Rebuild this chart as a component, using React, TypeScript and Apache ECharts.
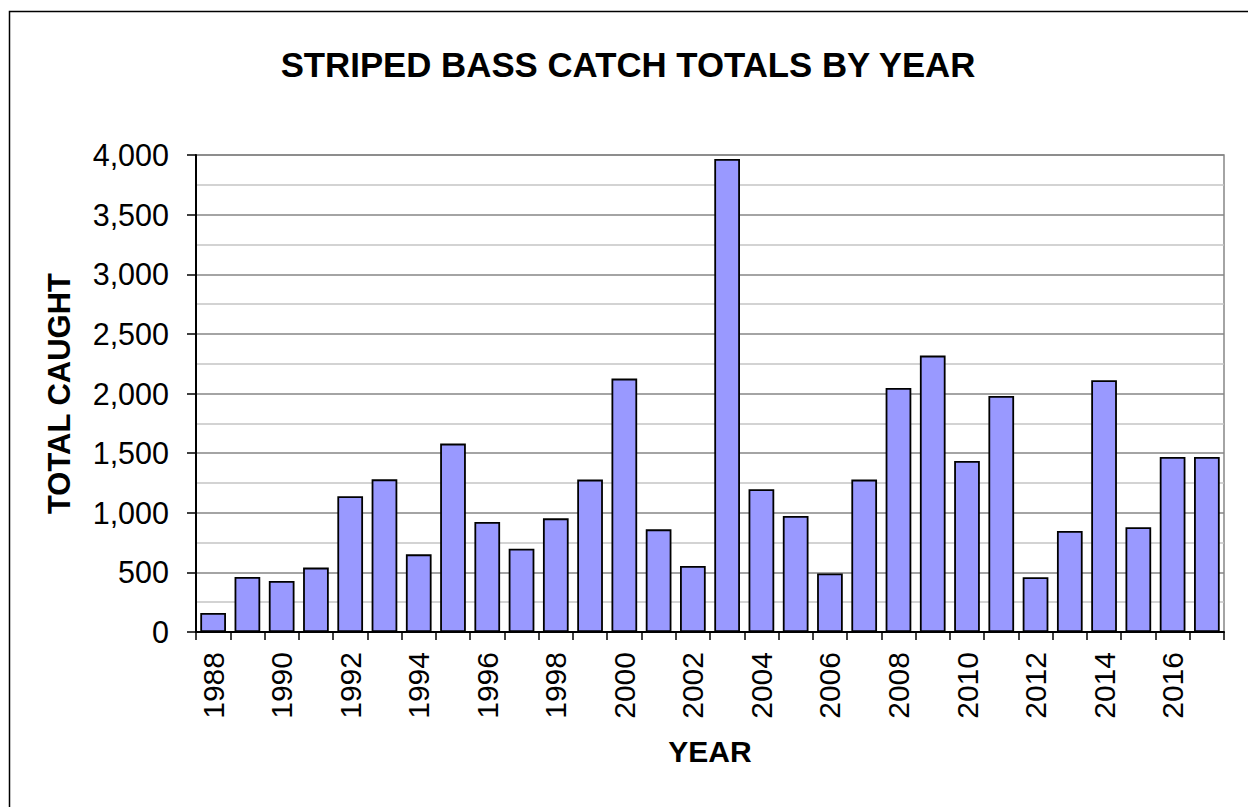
import React, { useEffect, useRef } from "react";
import * as echarts from "echarts";

const years = [
  "1988","1989","1990","1991","1992","1993","1994","1995","1996","1997",
  "1998","1999","2000","2001","2002","2003","2004","2005","2006","2007",
  "2008","2009","2010","2011","2012","2013","2014","2015","2016","2017",
];
const totals = [
  159, 461, 428, 540, 1138, 1280, 651, 1580, 923, 699,
  953, 1278, 2125, 861, 554, 3967, 1197, 973, 490, 1278,
  2046, 2318, 1434, 1979, 459, 847, 2111, 878, 1468, 1468,
];
const titleText = "STRIPED BASS CATCH TOTALS BY YEAR";
const yTitle = "TOTAL CAUGHT";
const xTitle = "YEAR";

const FONT = "'Liberation Sans', Arial, sans-serif";

export default function App() {
  const ref = useRef<HTMLDivElement>(null);
  useEffect(() => {
    document.body.style.margin = "0";
    if (!ref.current) return;
    const chart = echarts.init(ref.current, null, { renderer: "svg" });
    chart.setOption({
      animation: false,
      backgroundColor: "#ffffff",
      textStyle: { fontFamily: FONT },
      title: {
        text: titleText,
        left: 623,
        textAlign: "center",
        top: 42,
        textStyle: { fontFamily: FONT, fontSize: 34.8, fontWeight: "bold", color: "#000" },
      },
      graphic: [
        {
          type: "rect",
          shape: { x: 9.5, y: 11.5, width: 1400, height: 1000 },
          style: { fill: "none", stroke: "#000", lineWidth: 1.5 },
          silent: true,
        },
      ],
      grid: {
        left: 196,
        right: 24,
        top: 155,
        bottom: 175,
        show: true,
        borderColor: "#868686",
        borderWidth: 1.5,
        backgroundColor: "transparent",
      },
      xAxis: {
        type: "category",
        data: years,
        name: xTitle,
        nameLocation: "middle",
        nameGap: 104,
        nameTextStyle: { fontFamily: FONT, fontSize: 30, fontWeight: "bold", color: "#000" },
        axisLine: { lineStyle: { color: "#000", width: 2 } },
        axisTick: { show: true, interval: 0, length: 8, lineStyle: { color: "#000", width: 1.5 } },
        axisLabel: {
          interval: 1,
          rotate: 90,
          margin: 20,
          fontFamily: FONT,
          fontSize: 30,
          color: "#000",
        },
        splitLine: { show: false },
      },
      yAxis: {
        type: "value",
        min: 0,
        max: 4000,
        interval: 500,
        name: yTitle,
        nameLocation: "middle",
        nameRotate: 90,
        nameGap: 121,
        nameTextStyle: { fontFamily: FONT, fontSize: 31, fontWeight: "bold", color: "#000" },
        axisLine: { show: true, lineStyle: { color: "#000", width: 2 } },
        axisTick: { show: true, length: 9, lineStyle: { color: "#000", width: 1.5 } },
        axisLabel: {
          margin: 27,
          fontFamily: FONT,
          fontSize: 30.5,
          color: "#000",
          formatter: (v: number) => v.toLocaleString("en-US"),
        },
        splitLine: { show: true, lineStyle: { color: "#868686", width: 1.5 } },
        minorTick: { show: false, splitNumber: 2 },
        minorSplitLine: { show: true, lineStyle: { color: "#c4c4c4", width: 1.5 } },
      },
      series: [
        {
          type: "bar",
          data: totals,
          barCategoryGap: "25%",
          itemStyle: { color: "#9999ff", borderColor: "#000", borderWidth: 1.8 },
        },
      ],
    });
    return () => chart.dispose();
  }, []);
  return <div ref={ref} style={{ width: 1248, height: 807 }} />;
}
